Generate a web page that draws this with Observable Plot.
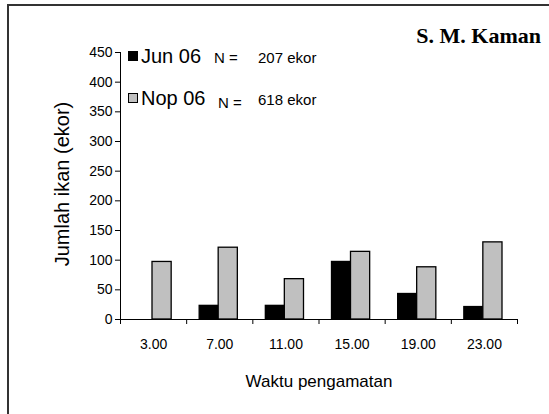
<!DOCTYPE html>
<html>
<head>
<meta charset="utf-8">
<script src="https://cdn.jsdelivr.net/npm/d3@7"></script>
<script src="https://cdn.jsdelivr.net/npm/@observablehq/plot@0.6"></script>
<style>
  html, body { margin: 0; padding: 0; background: #fff; }
  #wrap { position: relative; width: 549px; height: 414px; overflow: hidden; font-family: "Liberation Sans", Arial, sans-serif; }
  #frame { position: absolute; left: 7px; top: 4px; width: 700px; height: 600px; border-top: 2px solid #333; border-left: 2px solid #333; box-sizing: border-box; }
  #chart { position: absolute; left: 0; top: 0; }
  .abs { position: absolute; white-space: nowrap; line-height: 1; color: #000; }
  .sw { position: absolute; width: 8px; height: 8px; border: 1px solid #000; }
</style>
</head>
<body>
<div id="wrap">
  <div id="frame"></div>
  <div id="chart"></div>
</div>
<script>
// ---- data ----
const times = ["3.00", "7.00", "11.00", "15.00", "19.00", "23.00"];
const junValues = [0, 23, 23, 97, 43, 21];
const nopValues = [97, 121, 68, 114, 88, 130];
const seriesNames = ["Jun 06", "Nop 06"];
const seriesTotals = [207, 618];
const seriesFills = ["#000000", "#c0c0c0"];
const yTicks = [0, 50, 100, 150, 200, 250, 300, 350, 400, 450];
const stationLabel = "S. M. Kaman";
const yTitle = "Jumlah ikan (ekor)";
const xTitle = "Waktu pengamatan";

const junRows = times.map((t, i) => ({i, time: t, value: junValues[i]}));
const nopRows = times.map((t, i) => ({i, time: t, value: nopValues[i]}));
const boundaries = d3.range(times.length + 1);
const centers = times.map((t, i) => i + 0.5);

const chart = Plot.plot({
  width: 549,
  height: 414,
  marginLeft: 120,
  marginRight: 32,
  marginTop: 52,
  marginBottom: 95,
  style: {fontFamily: "'Liberation Sans', Arial, sans-serif", fontSize: "14px", background: "transparent", color: "#000"},
  x: {domain: [0, times.length]},
  y: {domain: [0, 450]},
  marks: [
    Plot.rectY(junRows, {x1: d => d.i, x2: d => d.i + 1, y: "value", fill: seriesFills[0], stroke: "#000", strokeWidth: 1.3, insetLeft: 13, insetRight: 34}),
    Plot.rectY(nopRows, {x1: d => d.i, x2: d => d.i + 1, y: "value", fill: seriesFills[1], stroke: "#000", strokeWidth: 1.3, insetLeft: 32, insetRight: 15}),
    Plot.ruleX([0], {stroke: "#000"}),
    Plot.ruleY([0], {stroke: "#000"}),
    Plot.axisY(yTicks, {tickSize: 5, tickPadding: 3, fontSize: 14, label: null}),
    Plot.axisX(boundaries, {tickSize: 5, tickFormat: () => "", label: null}),
    Plot.axisX(centers, {tickSize: 0, tickPadding: 20, fontSize: 14, tickFormat: v => times[Math.floor(v)], label: null}),
    Plot.text([yTitle], {frameAnchor: "left", textAnchor: "middle", lineAnchor: "middle", rotate: -90, dx: -58, dy: -2, fontSize: 20, fill: "#000"}),
    Plot.text([xTitle], {frameAnchor: "bottom", textAnchor: "middle", lineAnchor: "middle", dy: 62, fontSize: 17, fill: "#000"})
  ]
});
document.getElementById("chart").appendChild(chart);

// legend + station label (HTML overlay)
const wrap = document.getElementById("wrap");
const st = document.createElement("div");
st.className = "abs";
st.textContent = stationLabel;
st.style.cssText = "right:8px; top:25px; font-family:'Liberation Serif','Times New Roman',serif; font-weight:bold; font-size:22px;";
wrap.appendChild(st);

seriesNames.forEach((name, k) => {
  const top = 48 + k * 42;
  const sw = document.createElement("div");
  sw.className = "sw";
  sw.style.left = "128px";
  sw.style.top = (top + 3) + "px";
  sw.style.background = seriesFills[k];
  wrap.appendChild(sw);
  const nm = document.createElement("div");
  nm.className = "abs";
  nm.textContent = name;
  nm.style.cssText = `left:141px; top:${top - 2}px; font-size:20px;`;
  wrap.appendChild(nm);
  const n = document.createElement("div");
  n.className = "abs";
  n.textContent = "N =";
  n.style.cssText = `left:${k === 0 ? 214 : 218}px; top:${top + 2 + k * 3}px; font-size:15px;`;
  wrap.appendChild(n);
  const tot = document.createElement("div");
  tot.className = "abs";
  tot.textContent = seriesTotals[k] + " ekor";
  tot.style.cssText = `left:258px; top:${top + 2}px; font-size:15px;`;
  wrap.appendChild(tot);
});
</script>
</body>
</html>
